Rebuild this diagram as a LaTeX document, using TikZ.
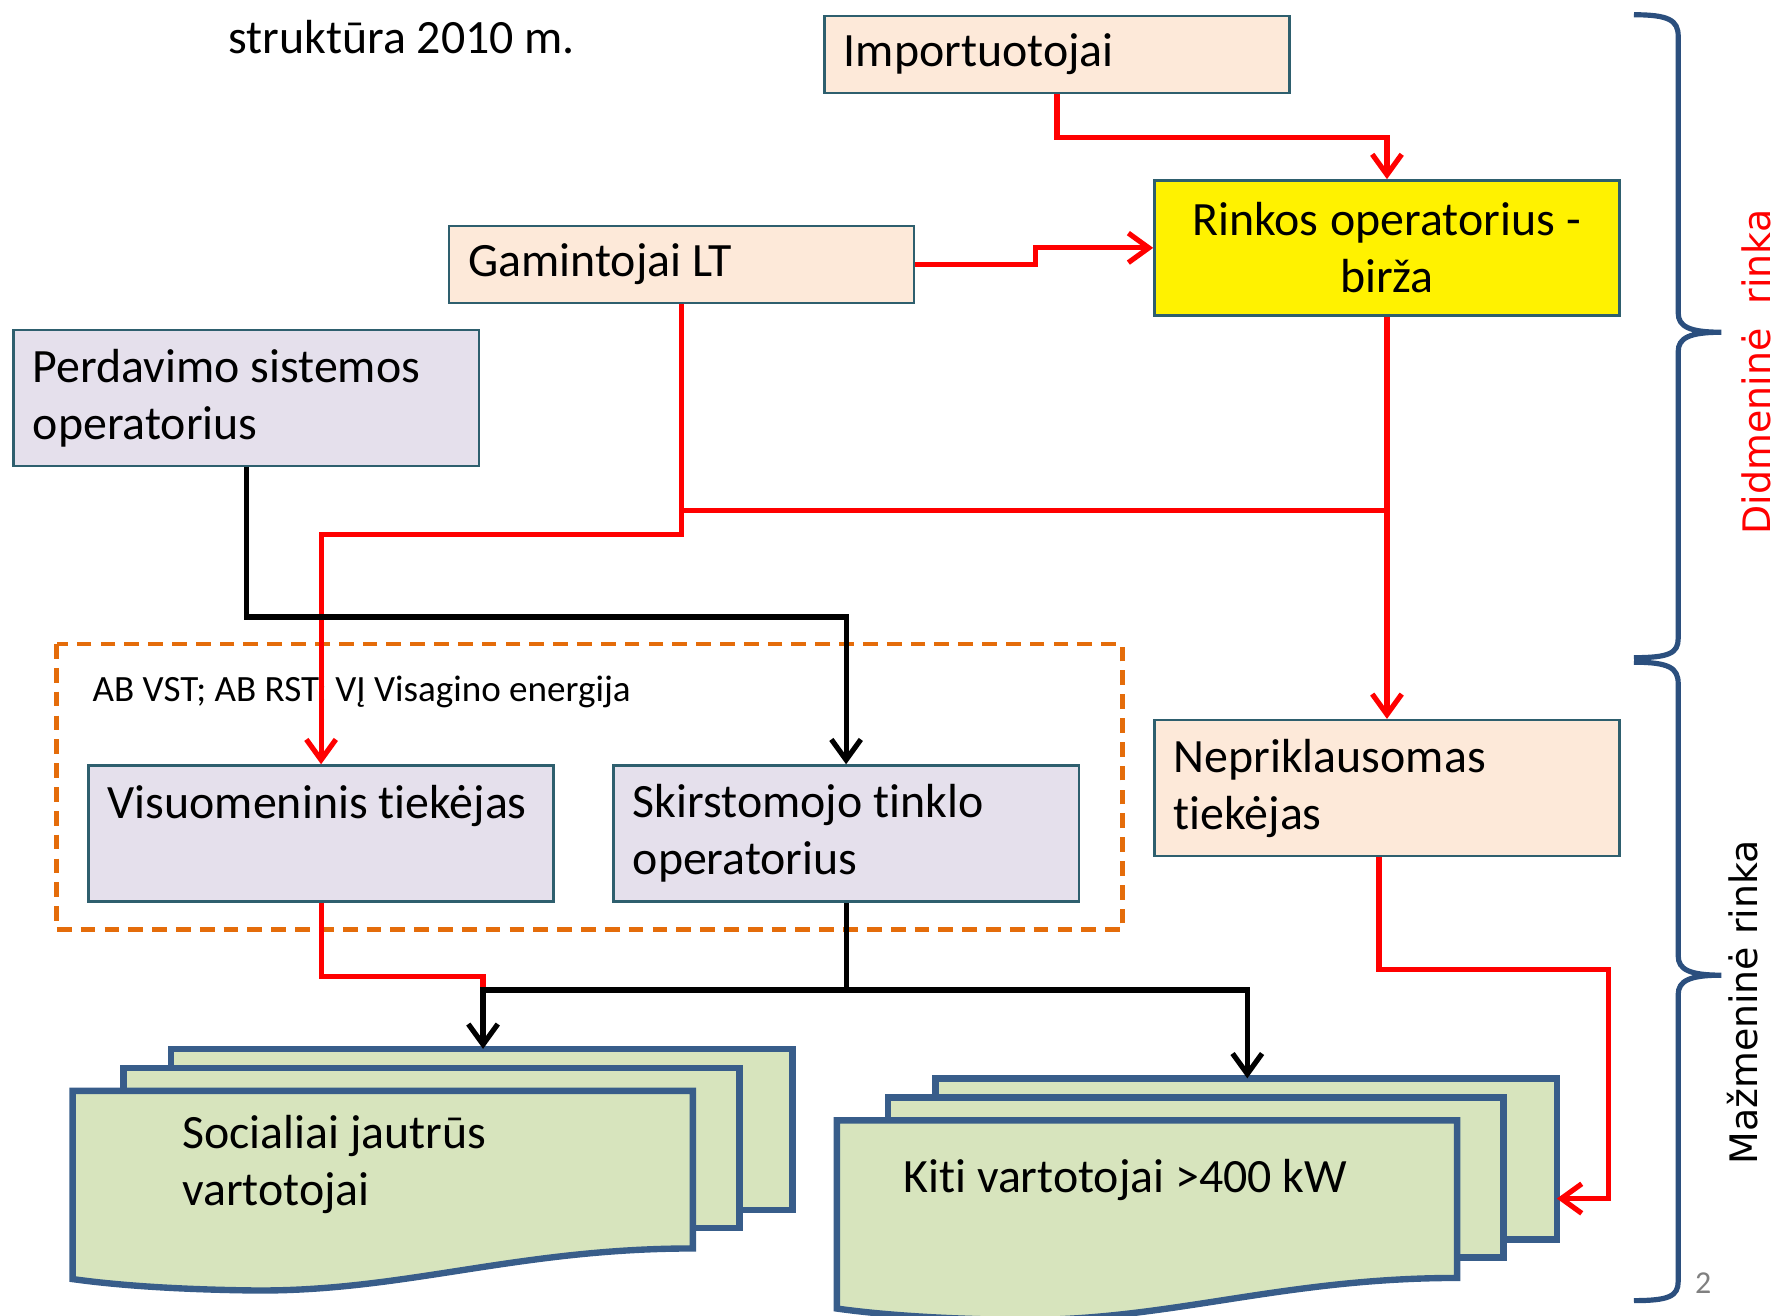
\documentclass[tikz,border=0pt]{standalone}
\usepackage{fontspec}
\setmainfont{Carlito}[Ligatures=NoCommon]
\newfontfamily\sidefont{DejaVu Sans}
\usetikzlibrary{arrows.meta,calc}

\definecolor{peach}{HTML}{FDE9D9}
\definecolor{lavender}{HTML}{E5E0EC}
\definecolor{boxline}{HTML}{2E5F6E}
\definecolor{docfill}{HTML}{D7E4BD}
\definecolor{docline}{HTML}{385D8A}
\definecolor{bracecol}{HTML}{2B4F7E}
\definecolor{dashorange}{HTML}{E46C0A}

\tikzset{
  box/.style={draw=boxline, line width=0.6pt, anchor=north west,
    minimum width=4.1cm, text width=3.76cm, inner xsep=0.17cm,
    align=left, font=\fontsize{12}{14.2}\selectfont,
    execute at begin node={\spaceskip=0pt\xspaceskip=0pt\relax}},
  redline/.style={draw=red, line width=1.3pt},
  redarr/.style={redline, -{Straight Barb[length=1.8mm,width=2.6mm]}},
  blkline/.style={draw=black, line width=1.3pt},
  blkarr/.style={blkline, -{Straight Barb[length=1.8mm,width=2.6mm]}},
  docpage/.style={fill=docfill, draw=docline, line width=1.6pt},
  doctext/.style={anchor=west, align=left, inner sep=0pt, font=\fontsize{12}{14.2}\selectfont},
  bracel/.style={draw=bracecol, line width=1.3pt},
  sidelabel/.style={rotate=90, font=\sidefont\fontsize{9.5}{11}\selectfont},
  docstack/.pic={
    \path[docpage] (87,-37) rectangle (635,105);
    \path[docpage] (45,-20) rectangle (588,121);
    \path[docpage] (0,0) -- (547,0) -- (547,139)
      .. controls (390,139) and (290,178) .. (156,176)
      .. controls (86,175) and (36,171) .. (0,166) -- cycle;
    \coordinate (-top) at (362,-37);
    \coordinate (-east) at (635,69);
  }
}

\begin{document}
\begin{tikzpicture}[x=0.01cm, y=-0.01cm]
  \useasboundingbox (0,0) rectangle (1568,1160);

  % title
  \node[anchor=west, font=\fontsize{12}{14.2}\selectfont, inner sep=0pt] (title) at (201,33) {struktūra 2010 m.};

  % market participants
  \node[box, fill=peach, minimum height=0.68cm] (imp) at (726,13) {Importuotojai};
  \node[box, fill=yellow, minimum height=1.19cm, align=center] (rinkos) at (1017,158) {Rinkos operatorius -\\birža};
  \node[box, fill=peach, minimum height=0.68cm] (gam) at (395,198) {Gamintojai LT};
  \node[box, fill=lavender, minimum height=1.2cm] (per) at (11,290) {Perdavimo sistemos\\operatorius};
  \node[box, fill=peach, minimum height=1.2cm] (nep) at (1017,634) {Nepriklausomas\\tiekėjas};

  % distribution group
  \draw[dashorange, line width=1.2pt, dash pattern=on 1.3mm off 0.8mm] (50,568) rectangle (990,820);
  \node[anchor=west, font=\fontsize{9.3}{11}\selectfont, inner sep=0pt] (grp) at (81,610) {AB VST; AB RST; VĮ Visagino energija};
  \node[box, fill=lavender, minimum height=1.2cm] (visu) at (77,674) {Visuomeninis tiekėjas\\[-2.8pt]\strut};
  \node[box, fill=lavender, minimum height=1.2cm] (sto) at (540,674) {Skirstomojo tinklo\\operatorius};

  % consumers
  \pic (soc) at (64,962) {docstack};
  \pic (kiti) at (738,988) {docstack};
  \node[doctext] (socialiai) at (160,1027) {Socialiai jautrūs\\vartotojai};
  \node[doctext] (kitiv) at (796,1041) {Kiti vartotojai >400 kW};

  % connectors
  \coordinate (jn) at (rinkos.south |- 0,450);
  \coordinate (bus) at (sto.south |- 0,873);
  \draw[redarr] (imp.south) -- ++(0,38) -| (rinkos.north);
  \draw[redarr] (gam.east) -- ++(106,0) |- (rinkos.west);
  \draw[redarr] (gam.south) -- ++(0,203) -| (visu.north);
  \draw[redline] (gam.south |- jn) -- (jn);
  \draw[redarr] (rinkos.south) -- (nep.north);
  \draw[blkarr] (per.south) -- ++(0,132) -| (sto.north);
  \draw[redline] (visu.south) -- ++(0,65) -| (soc-top |- bus);
  \draw[blkline] (sto.south) -- (bus);
  \draw[blkarr] (bus) -| (soc-top);
  \draw[blkarr] (bus) -| (kiti-top);
  \draw[redarr] ([xshift=-0.07cm]nep.south) |- ++(202,99) |- (kiti-east);

  % braces
  \draw[bracel] (1441,13) .. controls (1472,13) and (1480,18) .. (1480,32) -- (1480,276)
    .. controls (1480,288) and (1490,293) .. (1518,293)
    .. controls (1490,293) and (1480,298) .. (1480,310) -- (1480,563)
    .. controls (1480,576) and (1472,580) .. (1441,580);
  \draw[bracel] (1441,584) .. controls (1472,584) and (1480,589) .. (1480,603) -- (1480,843)
    .. controls (1480,855) and (1490,860) .. (1518,860)
    .. controls (1490,860) and (1480,865) .. (1480,877) -- (1480,1130)
    .. controls (1480,1143) and (1472,1147) .. (1441,1147);
  \node[sidelabel, text=red] (didm) at (1549,328) {Didmeninė\ \ rinka};
  \node[sidelabel] (mazm) at (1537,884) {Mažmeninė rinka};

  \node[font=\fontsize{8}{9.6}\selectfont, text=gray] (page) at (1502,1132) {2};
\end{tikzpicture}
\end{document}
